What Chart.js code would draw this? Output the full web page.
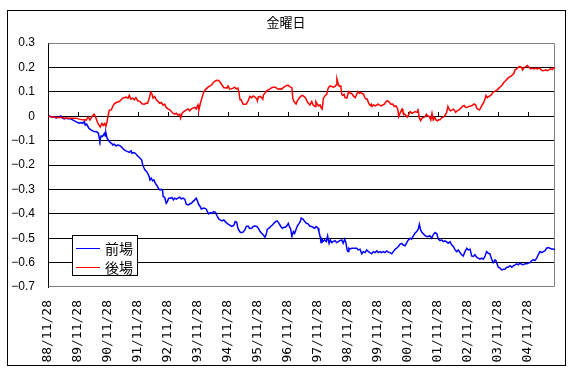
<!DOCTYPE html>
<html>
<head>
<meta charset="utf-8">
<script src="https://cdn.jsdelivr.net/npm/chart.js@4.4.0/dist/chart.umd.min.js"></script>
<style>
  body { margin: 0; background: #fff; }
  canvas { display: block; }
</style>
</head>
<body>
<canvas id="kinChart" width="580" height="378"></canvas>
<script>
const chartTitle = "金曜日";
const seriesNames = ["前場", "後場"];
const xLabels = ["88/11/28", "89/11/28", "90/11/28", "91/11/28", "92/11/28", "93/11/28",
    "94/11/28", "95/11/28", "96/11/28", "97/11/28", "98/11/28", "99/11/28",
    "00/11/28", "01/11/28", "02/11/28", "03/11/28", "04/11/28"];
const yTicks = [0.3, 0.2, 0.1, 0, -0.1, -0.2, -0.3, -0.4, -0.5, -0.6, -0.7];

// 前場 (blue): x = years since 88/11/28
const zenbaX = [
    0.02,0.1,0.16,0.21,0.27,0.32,0.38,0.43,0.49,0.54,0.6,0.66,0.71,0.77,0.82,0.88,0.93,0.99,1.04,1.1,
    1.16,1.21,1.24,1.29,1.32,1.36,1.4,1.47,1.54,1.62,1.68,1.71,1.73,1.77,1.82,1.88,1.91,1.93,1.97,2.02,
    2.08,2.12,2.16,2.21,2.27,2.32,2.38,2.43,2.49,2.54,2.6,2.66,2.71,2.77,2.8,2.86,2.91,2.96,3.01,3.07,
    3.12,3.16,3.19,3.23,3.29,3.33,
    3.37,3.4,3.44,3.49,3.53,3.58,3.63,3.69,3.73,3.78,3.82,3.84,3.89,3.94,3.98,4.02,4.08,4.13,4.18,4.22,
    4.28,4.33,4.39,4.44,4.5,4.56,4.61,4.67,4.72,4.78,4.83,4.89,4.94,4.98,5.02,5.07,5.11,5.17,5.22,5.28,
    5.31,5.36,5.41,5.47,5.52,5.58,5.63,5.69,5.74,5.8,5.86,5.91,5.97,6.02,6.08,6.13,6.19,6.24,6.29,6.33,
    6.39,6.44,6.5,6.56,6.61,6.67,6.72,
    6.79,6.84,6.9,6.96,7.01,7.07,7.12,7.18,7.23,7.27,7.31,7.37,7.42,7.48,7.53,7.59,7.64,7.7,7.76,7.81,
    7.87,7.92,7.98,8.01,8.04,8.09,8.13,8.18,8.22,8.27,8.31,8.37,8.42,8.44,8.5,8.56,8.61,8.67,8.72,8.78,
    8.83,8.89,8.94,9.0,9.03,9.07,9.1,9.13,9.17,9.22,9.28,9.32,9.37,9.41,9.46,9.5,9.57,9.62,9.68,9.73,
    9.79,9.84,9.89,9.93,9.97,10.0,10.03,10.07,10.12,10.18,
    10.29,10.34,10.4,10.46,10.51,10.57,10.62,10.68,10.73,10.79,10.84,10.9,10.96,11.01,11.07,11.12,11.18,11.23,11.29,11.34,
    11.4,11.46,11.51,11.57,11.62,11.68,11.73,11.79,11.84,11.9,11.96,12.01,12.07,12.12,12.18,12.23,12.29,12.34,12.38,12.42,
    12.47,12.51,12.57,12.62,12.68,12.73,12.79,12.84,12.9,12.96,13.01,13.07,13.12,13.18,13.23,13.29,13.34,13.4,13.46,13.51,
    13.57,13.62,13.68,13.73,13.79,13.84,13.9,13.96,14.01,14.07,14.12,14.18,14.23,14.29,14.34,14.4,14.46,14.51,14.57,14.62,
    14.68,14.73,14.79,14.84,14.9,14.93,14.98,15.01,15.07,15.12,15.18,15.23,15.29,15.34,15.4,15.46,15.51,15.57,15.62,15.68,
    15.73,15.79,15.84,15.9,15.96,16.01,16.07,16.12,16.18,16.23,16.29,16.34,16.4,16.46,16.51,16.57,16.62,16.68,16.73,16.79,
    16.84,16.9
];
const zenbaValues = [
    0.001,-0.002,-0.004,-0.002,-0.008,-0.004,-0.002,0.001,-0.008,-0.011,-0.008,-0.010,-0.010,-0.012,-0.015,-0.019,-0.022,-0.026,-0.029,-0.026,
    -0.029,-0.022,-0.036,-0.032,-0.040,-0.049,-0.053,-0.059,-0.063,-0.064,-0.070,-0.090,-0.100,-0.081,-0.083,-0.070,-0.081,-0.067,-0.090,-0.100,
    -0.108,-0.111,-0.118,-0.115,-0.122,-0.118,-0.120,-0.124,-0.131,-0.138,-0.142,-0.145,-0.148,-0.142,-0.152,-0.149,-0.152,-0.159,-0.165,-0.172,
    -0.179,-0.200,-0.209,-0.220,-0.227,-0.236,
    -0.247,-0.261,-0.254,-0.265,-0.261,-0.275,-0.284,-0.298,-0.302,-0.299,-0.306,-0.329,-0.333,-0.357,-0.350,-0.336,-0.336,-0.333,-0.343,-0.336,
    -0.340,-0.336,-0.332,-0.339,-0.336,-0.340,-0.361,-0.364,-0.360,-0.357,-0.350,-0.343,-0.336,-0.347,-0.361,-0.370,-0.380,-0.377,-0.377,-0.381,
    -0.391,-0.400,-0.395,-0.398,-0.391,-0.394,-0.407,-0.421,-0.425,-0.429,-0.425,-0.432,-0.439,-0.443,-0.448,-0.452,-0.448,-0.432,-0.435,-0.459,
    -0.473,-0.477,-0.475,-0.466,-0.452,-0.450,-0.460,
    -0.459,-0.452,-0.450,-0.452,-0.459,-0.473,-0.480,-0.487,-0.496,-0.486,-0.463,-0.459,-0.452,-0.446,-0.439,-0.432,-0.429,-0.439,-0.452,-0.459,
    -0.455,-0.455,-0.446,-0.439,-0.450,-0.463,-0.493,-0.473,-0.480,-0.463,-0.450,-0.439,-0.428,-0.418,-0.422,-0.432,-0.439,-0.441,-0.450,-0.452,
    -0.455,-0.459,-0.452,-0.459,-0.473,-0.493,-0.518,-0.504,-0.513,-0.507,-0.514,-0.491,-0.521,-0.507,-0.518,-0.514,-0.510,-0.518,-0.514,-0.510,
    -0.507,-0.521,-0.504,-0.518,-0.548,-0.555,-0.541,-0.545,-0.541,-0.541,
    -0.541,-0.548,-0.545,-0.564,-0.555,-0.559,-0.548,-0.555,-0.559,-0.564,-0.555,-0.559,-0.552,-0.559,-0.555,-0.559,-0.555,-0.559,-0.552,-0.557,
    -0.559,-0.564,-0.555,-0.545,-0.541,-0.534,-0.525,-0.521,-0.528,-0.531,-0.518,-0.507,-0.500,-0.504,-0.490,-0.480,-0.473,-0.463,-0.443,-0.466,
    -0.477,-0.482,-0.490,-0.493,-0.493,-0.490,-0.500,-0.486,-0.477,-0.482,-0.504,-0.510,-0.507,-0.514,-0.511,-0.515,-0.521,-0.514,-0.528,-0.534,
    -0.548,-0.555,-0.548,-0.559,-0.568,-0.573,-0.555,-0.541,-0.548,-0.545,-0.573,-0.575,-0.568,-0.578,-0.582,-0.586,-0.582,-0.586,-0.573,-0.555,
    -0.562,-0.564,-0.586,-0.600,-0.589,-0.592,-0.609,-0.619,-0.623,-0.630,-0.627,-0.627,-0.619,-0.619,-0.613,-0.619,-0.613,-0.609,-0.605,-0.609,
    -0.602,-0.607,-0.609,-0.605,-0.605,-0.602,-0.600,-0.592,-0.589,-0.592,-0.582,-0.568,-0.555,-0.559,-0.555,-0.551,-0.541,-0.538,-0.541,-0.544,
    -0.544,-0.548
];

// 後場 (red)
const gobaX = [
    0.02,0.16,0.27,0.43,0.6,0.77,0.93,1.04,1.16,1.27,1.34,1.4,1.49,1.54,1.6,1.66,1.71,1.74,1.8,1.84,
    1.89,1.93,1.97,2.0,2.04,2.11,2.16,2.21,2.29,2.38,2.49,2.6,2.67,2.71,2.76,2.82,2.88,2.93,2.99,3.07,
    3.13,3.21,3.27,3.32,
    3.39,3.42,3.47,3.5,3.56,3.61,3.67,3.72,3.78,3.83,3.89,3.94,4.0,4.06,4.11,4.17,4.22,4.28,4.33,4.39,
    4.42,4.47,4.53,4.61,4.67,4.72,4.78,4.83,4.89,4.94,5.0,5.03,5.08,5.13,5.19,5.24,5.3,5.36,5.41,5.47,
    5.52,5.58,5.63,5.69,5.74,5.8,5.86,5.91,5.97,6.0,6.06,6.11,6.17,6.22,6.28,6.33,6.37,6.4,6.44,6.5,
    6.56,6.61,6.67,
    6.73,6.79,6.84,6.9,6.96,6.98,7.01,7.07,7.12,7.16,7.18,7.23,7.29,7.34,7.4,7.46,7.51,7.57,7.62,7.68,
    7.73,7.79,7.84,7.9,7.96,8.01,8.04,8.09,8.13,8.16,8.2,8.27,8.31,8.37,8.42,8.48,8.53,8.59,8.64,8.68,
    8.73,8.79,8.84,8.9,8.93,8.98,9.02,9.07,9.11,9.14,9.18,9.23,9.29,9.34,9.4,9.46,9.51,9.57,9.6,9.63,
    9.67,9.71,9.76,9.79,9.82,9.87,9.9,9.96,9.99,10.02,10.07,10.12,
    10.19,10.24,10.28,10.33,10.38,10.43,10.49,10.52,10.56,10.6,10.64,10.69,10.74,10.78,10.8,10.86,10.91,10.97,11.0,11.04,
    11.1,11.16,11.21,11.27,11.32,11.38,11.43,11.49,11.54,11.6,11.66,11.69,11.72,11.76,11.8,11.83,11.88,11.92,11.97,12.02,
    12.07,12.13,12.19,12.24,12.3,12.33,12.38,12.42,12.47,12.52,12.58,12.61,12.66,12.71,12.76,12.8,12.84,12.89,12.93,12.98,
    13.02,13.07,13.13,13.19,13.24,13.29,13.33,13.38,13.42,13.47,13.52,
    13.59,13.64,13.7,13.76,13.81,13.87,13.92,13.98,14.03,14.09,14.14,14.2,14.26,14.29,14.33,14.38,14.42,14.47,14.51,14.56,
    14.6,14.64,14.7,14.76,14.81,14.87,14.92,14.98,15.03,15.09,15.14,15.2,15.26,15.31,15.37,15.42,15.48,15.53,15.57,15.62,
    15.68,15.73,15.79,15.82,15.87,15.92,15.98,16.03,16.09,16.14,16.2,16.26,16.31,16.37,16.42,16.48,16.53,16.59,16.64,16.7,
    16.76,16.81,16.87,16.9
];
const gobaValues = [
    0.000,-0.003,-0.005,-0.005,-0.008,-0.008,-0.008,-0.012,-0.015,-0.016,-0.003,-0.016,0.003,0.008,-0.008,-0.029,-0.038,-0.044,-0.029,-0.038,
    -0.030,-0.041,-0.022,-0.001,0.024,0.026,0.040,0.051,0.057,0.060,0.074,0.078,0.074,0.085,0.070,0.074,0.067,0.076,0.063,0.060,
    0.051,0.049,0.053,0.053,
    0.080,0.098,0.090,0.074,0.081,0.067,0.060,0.053,0.056,0.046,0.049,0.036,0.030,0.026,0.019,0.012,0.008,0.012,0.005,0.008,
    -0.008,0.012,0.019,0.026,0.030,0.022,0.030,0.033,0.036,0.030,0.046,0.026,0.053,0.074,0.098,0.108,0.115,0.122,0.124,0.131,
    0.139,0.145,0.147,0.146,0.139,0.128,0.117,0.117,0.115,0.124,0.111,0.112,0.115,0.119,0.112,0.115,0.094,0.067,0.067,0.050,
    0.049,0.050,0.063,
    0.081,0.076,0.083,0.078,0.071,0.063,0.079,0.081,0.076,0.070,0.087,0.094,0.104,0.108,0.112,0.117,0.119,0.119,0.115,0.111,
    0.112,0.111,0.117,0.122,0.126,0.127,0.122,0.119,0.117,0.074,0.060,0.050,0.063,0.074,0.081,0.085,0.081,0.074,0.060,0.053,
    0.046,0.060,0.046,0.040,0.060,0.049,0.042,0.046,0.033,0.029,0.074,0.083,0.090,0.115,0.124,0.122,0.119,0.122,0.128,0.153,
    0.135,0.122,0.124,0.090,0.085,0.090,0.076,0.074,0.087,0.101,0.094,0.094,
    0.081,0.076,0.087,0.101,0.094,0.097,0.092,0.090,0.076,0.070,0.070,0.053,0.044,0.049,0.040,0.046,0.042,0.046,0.050,0.046,
    0.042,0.046,0.049,0.060,0.064,0.057,0.049,0.050,0.040,0.042,0.029,-0.001,0.008,0.019,0.029,0.016,0.008,0.005,-0.004,0.005,
    0.019,0.012,0.016,0.019,0.016,0.030,-0.008,-0.018,-0.008,-0.005,-0.001,0.008,0.001,-0.001,-0.015,0.012,-0.015,-0.005,-0.015,-0.019,
    -0.015,-0.015,-0.005,-0.004,0.005,0.016,0.040,0.026,0.022,0.026,0.029,
    0.016,0.022,0.026,0.033,0.040,0.044,0.036,0.037,0.040,0.042,0.044,0.050,0.046,0.033,0.029,0.026,0.033,0.046,0.053,0.067,
    0.085,0.076,0.081,0.085,0.094,0.101,0.104,0.108,0.115,0.122,0.128,0.139,0.145,0.153,0.160,0.163,0.169,0.176,0.190,0.194,
    0.201,0.203,0.199,0.190,0.199,0.202,0.208,0.201,0.194,0.197,0.194,0.197,0.194,0.197,0.193,0.186,0.187,0.190,0.187,0.190,
    0.194,0.191,0.199,0.197
];

const zenbaColor = '#0000ff';
const gobaColor = '#ff0000';

function toPoints(xs, ys) {
    return xs.map((x, i) => ({ x: x, y: ys[i] }));
}

// frame, title, x tick marks on the zero line and the legend box
const excelLook = {
    id: 'excelLook',
    beforeDraw(chart) {
        const ctx = chart.ctx;
        ctx.save();
        ctx.fillStyle = '#fff';
        ctx.fillRect(0, 0, chart.width, chart.height);
        ctx.strokeStyle = '#000';
        ctx.lineWidth = 1;
        ctx.strokeRect(7.5, 10.5, 558, 355);
        ctx.fillStyle = '#000';
        ctx.font = "13px 'Noto Sans CJK JP'";
        ctx.textAlign = 'center';
        ctx.textBaseline = 'middle';
        ctx.fillText(chartTitle, 286, 22);
        ctx.restore();
    },
    beforeDatasetsDraw(chart) {
        const { ctx, chartArea: a, scales } = chart;
        const l = Math.round(a.left) + 0.5, r = Math.round(a.right) - 0.5;
        const t = Math.round(a.top) + 0.5, b = Math.round(a.bottom) - 0.5;
        ctx.save();
        ctx.strokeStyle = '#808080';
        ctx.lineWidth = 1;
        ctx.beginPath();
        ctx.moveTo(l, t); ctx.lineTo(r, t); ctx.lineTo(r, b); ctx.lineTo(l, b);
        ctx.stroke();
        // small tick marks sitting on the zero line
        const y0 = Math.round(scales.y.getPixelForValue(0));
        ctx.strokeStyle = '#000';
        ctx.beginPath();
        xLabels.forEach((_, i) => {
            const x = Math.round(scales.x.getPixelForValue(i)) + 0.5;
            ctx.moveTo(x, y0 - 4);
            ctx.lineTo(x, y0);
        });
        ctx.stroke();
        ctx.restore();
    },
    afterDraw(chart) {
        const { ctx, chartArea: a } = chart;
        const left = Math.round(a.left) + 24, top = Math.round(a.top) + 192;
        ctx.save();
        ctx.fillStyle = '#fff';
        ctx.fillRect(left, top, 65, 40);
        ctx.strokeStyle = '#000';
        ctx.lineWidth = 1;
        ctx.strokeRect(left + 0.5, top + 0.5, 65, 40);
        const colors = [zenbaColor, gobaColor];
        ctx.font = "14px 'Noto Sans CJK JP'";
        ctx.textBaseline = 'middle';
        seriesNames.forEach((name, i) => {
            const y = top + 13 + i * 19;
            ctx.strokeStyle = colors[i];
            ctx.beginPath();
            ctx.moveTo(left + 4, y + 0.5);
            ctx.lineTo(left + 28, y + 0.5);
            ctx.stroke();
            ctx.fillStyle = '#000';
            ctx.fillText(name, left + 33, y + 1);
        });
        ctx.restore();
    }
};

new Chart(document.getElementById('kinChart'), {
    type: 'line',
    data: {
        datasets: [
            {
                label: seriesNames[0],
                data: toPoints(zenbaX, zenbaValues),
                borderColor: zenbaColor,
                borderWidth: 1.5,
                pointRadius: 0,
                tension: 0,
                order: 1
            },
            {
                label: seriesNames[1],
                data: toPoints(gobaX, gobaValues),
                borderColor: gobaColor,
                borderWidth: 1.5,
                pointRadius: 0,
                tension: 0,
                order: 0
            }
        ]
    },
    options: {
        responsive: false,
        animation: false,
        devicePixelRatio: 1,
        layout: { padding: { top: 43, right: 25, left: 0, bottom: 0 } },
        plugins: {
            legend: { display: false },
            title: { display: false },
            tooltip: { enabled: false }
        },
        scales: {
            x: {
                type: 'linear',
                min: 0,
                max: 16.9,
                afterFit: s => { s.height = 91; },
                afterBuildTicks: s => { s.ticks = xLabels.map((_, i) => ({ value: i })); },
                grid: { display: false, drawTicks: false },
                border: { display: false },
                ticks: {
                    autoSkip: false,
                    minRotation: 90,
                    maxRotation: 90,
                    padding: 13,
                    color: '#000',
                    font: { family: "'DejaVu Sans Mono'", size: 13 },
                    callback: v => xLabels[v]
                }
            },
            y: {
                min: -0.7,
                max: 0.3,
                afterFit: s => { s.width = 48; },
                afterBuildTicks: s => { s.ticks = yTicks.map(v => ({ value: v })); },
                grid: {
                    drawTicks: false,
                    color: c => (c.tick && (c.tick.value === 0.3 || c.tick.value === -0.7)) ? 'rgba(0,0,0,0)' : '#000',
                    lineWidth: 1
                },
                border: { color: '#000', width: 1 },
                ticks: {
                    padding: 13,
                    color: '#000',
                    font: { family: "'Liberation Sans'", size: 12 },
                    callback: v => Math.abs(v) < 1e-9 ? '0' : v.toFixed(1).replace('-', '\u2212')
                }
            }
        }
    },
    plugins: [excelLook]
});
</script>
</body>
</html>
